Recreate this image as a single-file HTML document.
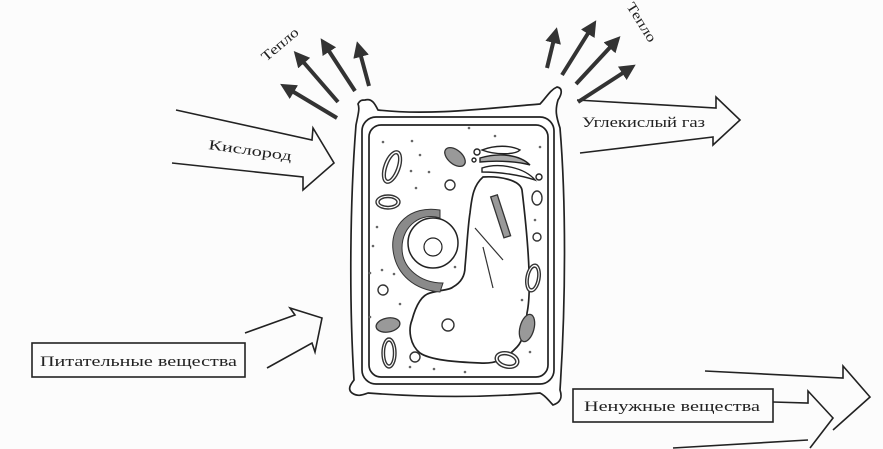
<!DOCTYPE html>
<html><head><meta charset="utf-8"><style>
html,body{margin:0;padding:0;background:#fff;}
svg{display:block;}
text{font-family:"Liberation Serif","Noto Serif CJK SC",serif;fill:#222;}
</style></head><body>
<svg width="883" height="449" viewBox="0 0 883 449" xmlns="http://www.w3.org/2000/svg">
<rect width="883" height="449" fill="#fcfcfc"/>
<defs>
<marker id="ah" markerWidth="4" markerHeight="4" refX="2" refY="2" orient="auto" markerUnits="strokeWidth">
<path d="M0,0 L4,2 L0,4 z" fill="#333"/></marker>
</defs>
<g fill="none" stroke="#222" stroke-width="1.6" stroke-linejoin="miter">
<polyline points="176,110 312,140 313,128 334,163 303,190 303,177 172,163"/>
<polyline points="577,100 716,108 716,97 740,120 713,145 713,137 580,153"/>
<polyline points="245,333 295,315 290,308 322,318 315,352 312,343 267,368"/>
<polyline points="705,371 843,378 843,366 870,397 833,430"/>
<polyline points="773,402 808,403 808,391 833,418 810,448"/>
<polyline points="673,448 808,440"/>
</g>
<g stroke="#333" stroke-width="4" marker-end="url(#ah)">
<line x1="337" y1="118" x2="287" y2="88"/>
<line x1="338" y1="102" x2="299" y2="57"/>
<line x1="355" y1="91" x2="325" y2="45"/>
<line x1="369" y1="86" x2="359" y2="49"/>
<line x1="547" y1="68" x2="555" y2="35"/>
<line x1="562" y1="75" x2="592" y2="27"/>
<line x1="576" y1="84" x2="615" y2="42"/>
<line x1="578" y1="102" x2="629" y2="69"/>
</g>
<text font-size="14" textLength="44" lengthAdjust="spacingAndGlyphs" transform="translate(266,62) rotate(-40)">Тепло</text>
<text font-size="14" textLength="44" lengthAdjust="spacingAndGlyphs" transform="translate(626,6) rotate(58)">Тепло</text>
<text font-size="14" textLength="84" lengthAdjust="spacingAndGlyphs" transform="translate(208,149) rotate(8)">Кислород</text>
<text x="582" y="127" font-size="15" textLength="123" lengthAdjust="spacingAndGlyphs">Углекислый газ</text>
<rect x="32" y="343" width="213" height="34" fill="none" stroke="#222" stroke-width="1.6"/>
<text x="40" y="366" font-size="15" textLength="197" lengthAdjust="spacingAndGlyphs">Питательные вещества</text>
<rect x="573" y="389" width="200" height="33" fill="none" stroke="#222" stroke-width="1.6"/>
<text x="584" y="411" font-size="15" textLength="176" lengthAdjust="spacingAndGlyphs">Ненужные вещества</text>
<g fill="none" stroke="#222" stroke-width="1.7">
<path d="M365,100 C372,98 375,104 378,110 C430,116 490,108 540,104 C546,98 550,90 557,87 C563,88 562,94 558,100 C555,110 556,116 560,128 C566,200 566,300 560,390 C562,396 562,402 553,405 C548,400 546,396 540,393 C480,398 420,397 368,393 C362,395 358,397 352,393 C347,389 351,384 354,380 C349,300 350,200 356,125 C358,115 360,108 358,104 C360,100 362,100 365,100 Z" fill="#fff"/>
<rect x="362" y="117" width="192" height="267" rx="14" ry="14"/>
<rect x="369" y="125" width="179" height="252" rx="12" ry="12"/>
<path d="M483,177 C500,176 520,180 522,190 C528,240 532,290 527,313 C526,330 522,342 517,347 C505,360 495,364 480,363 C455,362 430,360 420,353 C410,345 408,330 412,320 C416,305 422,295 430,293 C440,290 450,290 453,287 C462,282 465,275 465,267 C467,245 468,225 470,213 C472,195 474,185 483,177 Z"/>
</g>
<path d="M440,210 C410,205 390,225 393,250 C396,275 415,290 440,292 L443,283 C420,283 402,268 402,248 C402,225 422,212 440,218 Z" fill="#8a8a8a" stroke="#333" stroke-width="1"/>
<circle cx="433" cy="243" r="25" fill="#fff" stroke="#222" stroke-width="1.5"/>
<circle cx="433" cy="247" r="9" fill="#fff" stroke="#222" stroke-width="1.2"/>
<g fill="#999" stroke="#333" stroke-width="1.3">
<ellipse cx="455" cy="157" rx="12" ry="7" transform="rotate(40 455 157)"/>
<ellipse cx="388" cy="325" rx="12" ry="7" transform="rotate(-10 388 325)"/>
<ellipse cx="527" cy="328" rx="7" ry="14" transform="rotate(15 527 328)"/>
<rect x="497" y="195" width="7" height="43" transform="rotate(-18 500 216)" fill="#999"/>
</g>
<g fill="none" stroke="#222" stroke-width="1.4">
<path d="M482,150 C495,145 510,145 520,150 C515,155 495,155 482,150 Z"/>
<path d="M480,158 C500,152 520,155 530,165 C520,162 500,160 480,162 Z" fill="#aaa"/>
<path d="M482,168 C500,162 525,168 535,180 C520,175 500,172 482,172 Z"/>
<circle cx="477" cy="152" r="3"/><circle cx="474" cy="160" r="2"/><circle cx="539" cy="177" r="3"/>
</g>
<g fill="#fff" stroke="#333" stroke-width="1.4">
<ellipse cx="392" cy="167" rx="8" ry="17" transform="rotate(20 392 167)"/>
<ellipse cx="392" cy="167" rx="5" ry="14" transform="rotate(20 392 167)"/>
<ellipse cx="388" cy="202" rx="12" ry="7"/>
<ellipse cx="388" cy="202" rx="9" ry="4.5"/>
<ellipse cx="533" cy="278" rx="7" ry="14" transform="rotate(10 533 278)"/>
<ellipse cx="533" cy="278" rx="4.5" ry="11" transform="rotate(10 533 278)"/>
<ellipse cx="389" cy="353" rx="7" ry="15"/>
<ellipse cx="389" cy="353" rx="4.5" ry="12"/>
<ellipse cx="507" cy="360" rx="12" ry="8" transform="rotate(15 507 360)"/>
<ellipse cx="507" cy="360" rx="9" ry="5" transform="rotate(15 507 360)"/>
<circle cx="450" cy="185" r="5"/><circle cx="537" cy="237" r="4"/><circle cx="383" cy="290" r="5"/>
<circle cx="448" cy="325" r="6"/><circle cx="415" cy="357" r="5"/>
<ellipse cx="537" cy="198" rx="5" ry="7"/>
</g>
<g stroke="#333" stroke-width="1.2">
<line x1="475" y1="228" x2="503" y2="260"/><line x1="483" y1="247" x2="493" y2="288"/>
</g>
<g fill="#666">
<circle cx="383" cy="142" r="1.3"/><circle cx="412" cy="141" r="1.3"/><circle cx="420" cy="155" r="1.3"/>
<circle cx="411" cy="171" r="1.3"/><circle cx="429" cy="172" r="1.3"/><circle cx="416" cy="188" r="1.3"/>
<circle cx="377" cy="227" r="1.3"/><circle cx="373" cy="246" r="1.3"/><circle cx="382" cy="270" r="1.3"/>
<circle cx="370" cy="273" r="1.3"/><circle cx="394" cy="274" r="1.3"/><circle cx="400" cy="304" r="1.3"/>
<circle cx="370" cy="317" r="1.3"/><circle cx="410" cy="367" r="1.3"/><circle cx="434" cy="369" r="1.3"/>
<circle cx="465" cy="372" r="1.3"/><circle cx="530" cy="352" r="1.3"/><circle cx="522" cy="300" r="1.3"/>
<circle cx="535" cy="220" r="1.3"/><circle cx="540" cy="147" r="1.3"/><circle cx="469" cy="128" r="1.3"/>
<circle cx="495" cy="136" r="1.3"/><circle cx="455" cy="267" r="1.3"/>
</g>
</svg>
</body></html>
